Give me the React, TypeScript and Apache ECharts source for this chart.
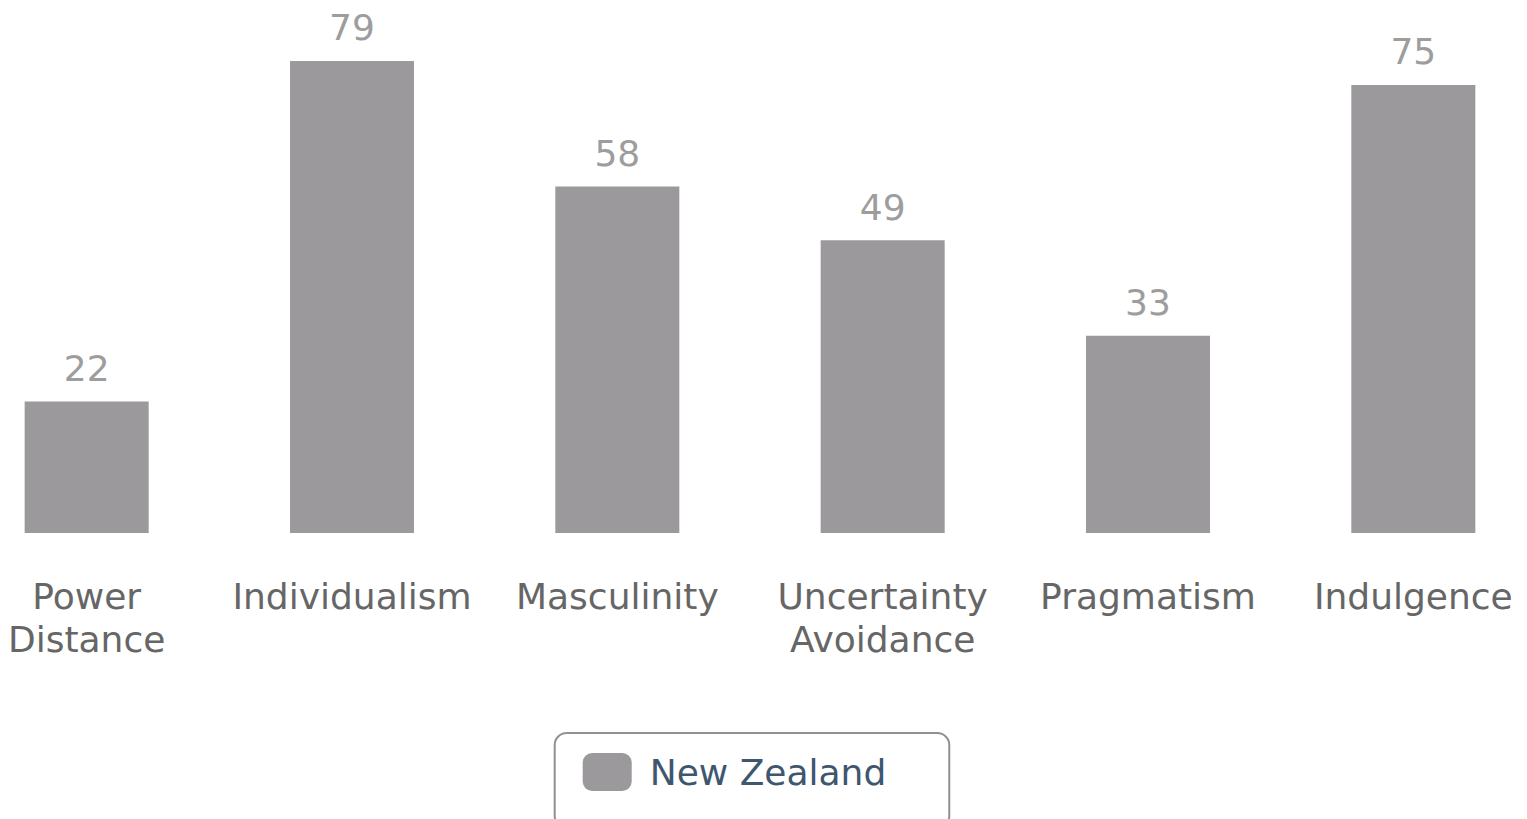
import React, { useEffect, useRef } from "react";
import * as echarts from "echarts";

const categories = ["Power\nDistance", "Individualism", "Masculinity", "Uncertainty\nAvoidance", "Pragmatism", "Indulgence"];
const seriesName = "New Zealand";
const values = [22, 79, 58, 49, 33, 75];

const OFFSET = 45.7;
const INNER_W = 1592.4;

export default function App() {
  const ref = useRef<HTMLDivElement>(null);
  useEffect(() => {
    const chart = echarts.init(ref.current!, null, { renderer: "svg" });
    chart.setOption({
      animation: false,
      backgroundColor: "#ffffff",
      grid: { left: 0, right: 0, top: 55, bottom: 286, containLabel: false },
      xAxis: {
        type: "category",
        data: categories,
        axisLine: { show: false },
        axisTick: { show: false },
        axisLabel: {
          interval: 0,
          margin: 42,
          color: "#666666",
          fontFamily: "DejaVu Sans",
          fontSize: 36,
          lineHeight: 43,
        },
      },
      yAxis: {
        type: "value",
        min: 0,
        max: 80,
        show: false,
        splitLine: { show: false },
      },
      legend: {
        data: [seriesName],
        left: 555 + OFFSET,
        top: 733,
        orient: "horizontal",
        icon: "roundRect",
        itemWidth: 49,
        itemHeight: 38,
        padding: [20, 63, 37, 28],
        borderColor: "#909090",
        borderWidth: 2,
        borderRadius: 12,
        textStyle: {
          color: "#3E576F",
          fontFamily: "DejaVu Sans",
          fontSize: 36,
          lineHeight: 38,
          padding: [0, 0, 0, 13],
        },
      },
      series: [
        {
          name: seriesName,
          type: "bar",
          data: values,
          barWidth: 124,
          itemStyle: { color: "#9B999B" },
          label: {
            show: true,
            position: "top",
            distance: 15,
            color: "#9d9d9d",
            fontFamily: "DejaVu Sans",
            fontSize: 36,
          },
        },
      ],
    });
    return () => chart.dispose();
  }, []);
  return (
    <div style={{ position: "absolute", left: 0, top: 0, width: 1527, height: 819, overflow: "hidden" }}>
      <div
        ref={ref}
        style={{ position: "absolute", left: -OFFSET, top: 0, width: INNER_W, height: 819 }}
      />
    </div>
  );
}
